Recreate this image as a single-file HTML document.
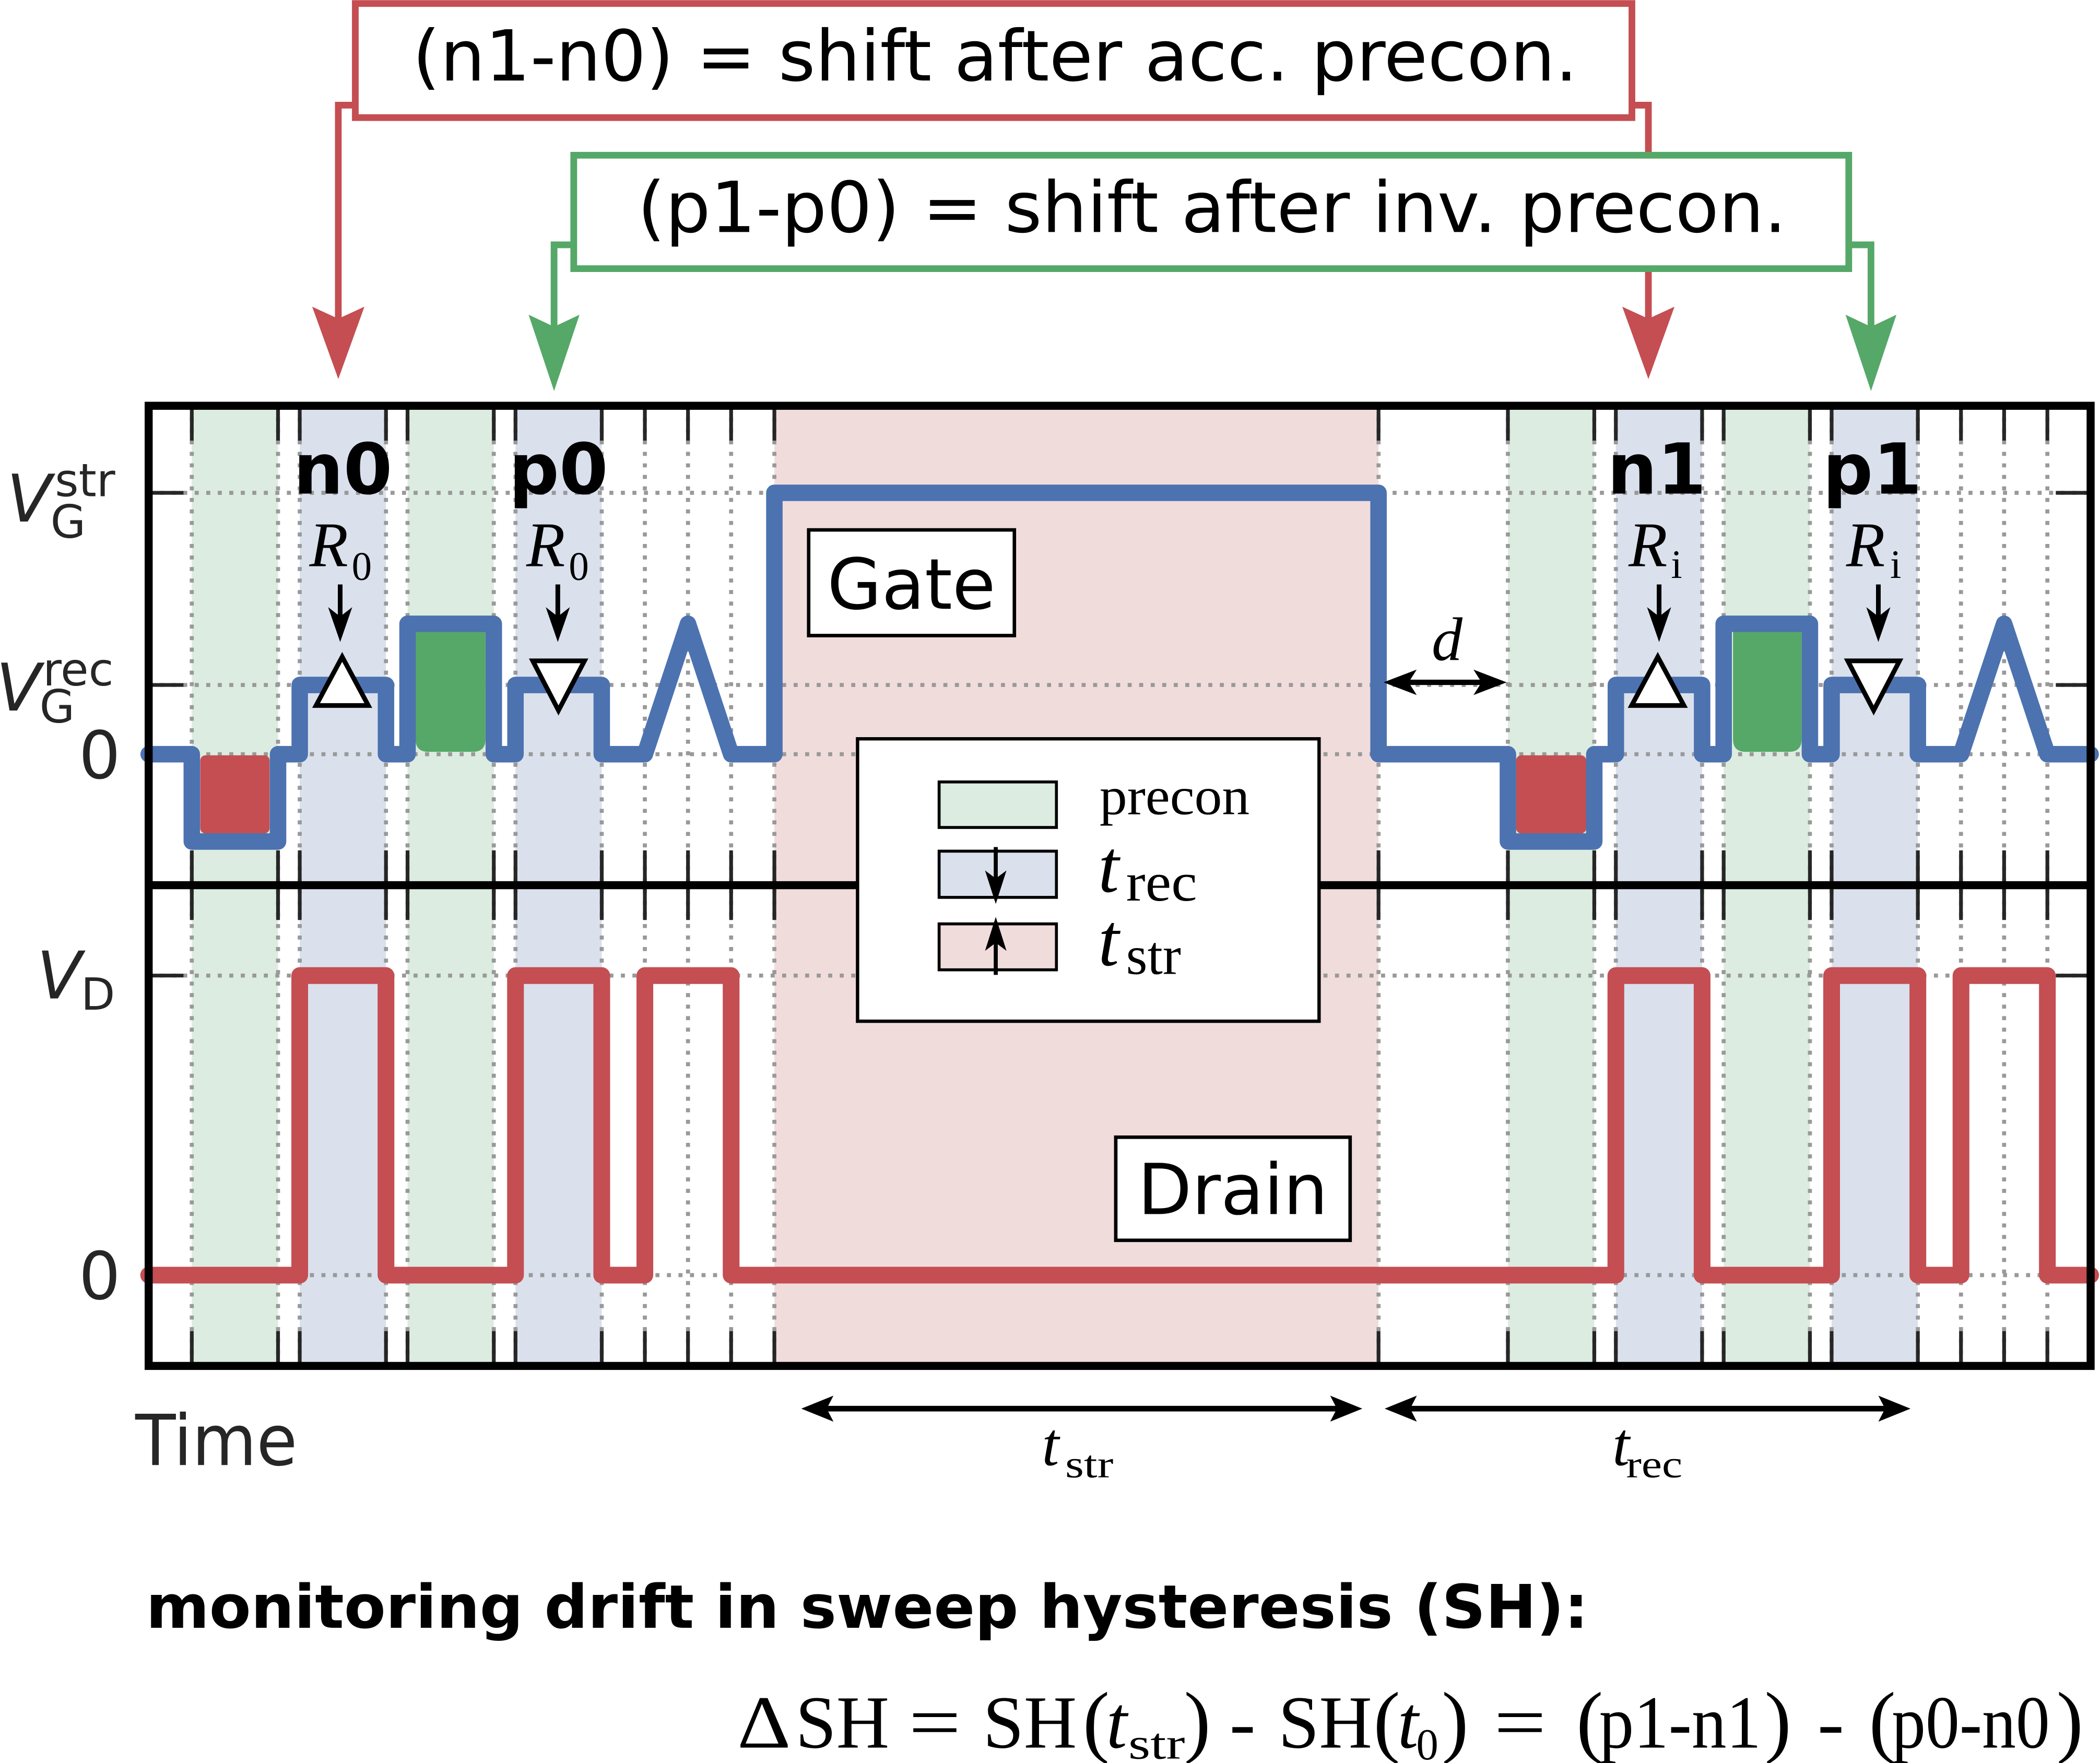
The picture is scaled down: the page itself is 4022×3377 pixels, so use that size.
<!DOCTYPE html>
<html>
<head>
<meta charset="utf-8">
<style>
html,body{margin:0;padding:0;background:#fff;}
svg{display:block;}
.sans{font-family:"DejaVu Sans","Liberation Sans",sans-serif;}
.serif{font-family:"Liberation Serif","DejaVu Serif",serif;}
</style>
</head>
<body>
<svg xmlns="http://www.w3.org/2000/svg" width="4022" height="3377" viewBox="0 0 1568 1316.5">
<rect x="0" y="0" width="1568" height="1316.5" fill="#fff"/>

<!-- background bands -->
<g>
<rect x="143.2" y="303" width="64.4" height="717" fill="#dcece0"/>
<rect x="304.3" y="303" width="64.4" height="717" fill="#dcece0"/>
<rect x="1125.9" y="303" width="64.5" height="717" fill="#dcece0"/>
<rect x="1287" y="303" width="64.4" height="717" fill="#dcece0"/>
<rect x="223.8" y="303" width="64.4" height="717" fill="#dae1ed"/>
<rect x="384.9" y="303" width="64.4" height="717" fill="#dae1ed"/>
<rect x="1206.5" y="303" width="64.4" height="717" fill="#dae1ed"/>
<rect x="1367.6" y="303" width="64.4" height="717" fill="#dae1ed"/>
<rect x="578.2" y="303" width="451.1" height="717" fill="#f1dcdc"/>
</g>

<!-- dotted grid -->
<path fill="none" stroke="#999" stroke-width="3" stroke-dasharray="3 5.6"
d="M143.2 303V1020M207.6 303V1020M223.8 303V1020M288.2 303V1020M304.3 303V1020M368.7 303V1020M384.9 303V1020M449.3 303V1020M481.5 303V1020M513.7 303V1020M545.9 303V1020M578.2 303V1020M1029.3 303V1020M1125.9 303V1020M1190.4 303V1020M1206.5 303V1020M1270.9 303V1020M1287 303V1020M1351.4 303V1020M1367.6 303V1020M1432 303V1020M1464.2 303V1020M1496.4 303V1020M1528.7 303V1020
M111 368H1561M111 511.5H1561M111 563.2H1561M111 728.5H1561M111 952.2H1561"/>

<!-- ticks -->
<path fill="none" stroke="#262626" stroke-width="2.8"
d="M143.2 303V329M143.2 635V687M143.2 994V1020
M207.6 303V329M207.6 635V687M207.6 994V1020
M223.8 303V329M223.8 635V687M223.8 994V1020
M288.2 303V329M288.2 635V687M288.2 994V1020
M304.3 303V329M304.3 635V687M304.3 994V1020
M368.7 303V329M368.7 635V687M368.7 994V1020
M384.9 303V329M384.9 635V687M384.9 994V1020
M449.3 303V329M449.3 635V687M449.3 994V1020
M481.5 303V329M481.5 635V687M481.5 994V1020
M513.7 303V329M513.7 635V687M513.7 994V1020
M545.9 303V329M545.9 635V687M545.9 994V1020
M578.2 303V329M578.2 635V687M578.2 994V1020
M1029.3 303V329M1029.3 635V687M1029.3 994V1020
M1125.9 303V329M1125.9 635V687M1125.9 994V1020
M1190.4 303V329M1190.4 635V687M1190.4 994V1020
M1206.5 303V329M1206.5 635V687M1206.5 994V1020
M1270.9 303V329M1270.9 635V687M1270.9 994V1020
M1287 303V329M1287 635V687M1287 994V1020
M1351.4 303V329M1351.4 635V687M1351.4 994V1020
M1367.6 303V329M1367.6 635V687M1367.6 994V1020
M1432 303V329M1432 635V687M1432 994V1020
M1464.2 303V329M1464.2 635V687M1464.2 994V1020
M1496.4 303V329M1496.4 635V687M1496.4 994V1020
M1528.7 303V329M1528.7 635V687M1528.7 994V1020
M111 368H137M111 511.5H137M111 728.5H137
M1561 368H1535M1561 511.5H1535M1561 728.5H1535"/>

<!-- pulse fills -->
<rect x="149.5" y="564" width="51.8" height="58.4" rx="4" fill="#c44e52"/>
<rect x="1132" y="564" width="52.4" height="58.4" rx="4" fill="#c44e52"/>
<path d="M310.3 470H362.5V552Q362.5 561.4 353 561.4H319.8Q310.3 561.4 310.3 552Z" fill="#55a868"/>
<path d="M1294 470H1345.2V552Q1345.2 561.4 1335.7 561.4H1303.5Q1294 561.4 1294 552Z" fill="#55a868"/>

<!-- waveforms -->
<path fill="none" stroke="#4c72b0" stroke-width="12.3" stroke-linejoin="round" stroke-linecap="round"
d="M111 563.2H143.2V628.4H207.6V563.2H223.8V511.5H288.2V563.2H304.3V465.8H368.7V563.2H384.9V511.5H449.3V563.2H481.5L513.7 465.8L545.9 563.2H578.2V368H1029.3V563.2H1125.9V628.4H1190.4V563.2H1206.5V511.5H1270.9V563.2H1287V465.8H1351.4V563.2H1367.6V511.5H1432V563.2H1464.2L1496.4 465.8L1528.7 563.2H1561"/>
<path fill="none" stroke="#c44e52" stroke-width="12.5" stroke-linejoin="round" stroke-linecap="round"
d="M111 952.2H223.8V728.5H288.2V952.2H384.9V728.5H449.3V952.2H481.5V728.5H545.9V952.2H1206.5V728.5H1270.9V952.2H1367.6V728.5H1432V952.2H1464.2V728.5H1528.7V952.2H1561"/>

<!-- markers / labels in gate panel -->
<g fill="#fff" stroke="#000" stroke-width="3.5" stroke-linejoin="miter">
<polygon points="255.5,490.5 236,526.8 275,526.8"/>
<polygon points="397.8,493.5 436.4,493.5 417,530.5"/>
<polygon points="1237.8,490.5 1218.3,526.8 1257.3,526.8"/>
<polygon points="1379.7,493.5 1418.3,493.5 1399,530.5"/>
</g>
<g stroke="#000" stroke-width="3.5" fill="none">
<path d="M254 436.4V466M416.5 436.4V466M1238.8 436.4V466M1402.5 436.4V466"/>
</g>
<g fill="#000">
<polygon points="254,479.4 245,453.4 254,460.4 263,453.4"/>
<polygon points="416.5,479.4 407.5,453.4 416.5,460.4 425.5,453.4"/>
<polygon points="1238.8,479.4 1229.8,453.4 1238.8,460.4 1247.8,453.4"/>
<polygon points="1402.5,479.4 1393.5,453.4 1402.5,460.4 1411.5,453.4"/>
</g>

<g class="sans" font-weight="bold" font-size="52.5" fill="#000" text-anchor="middle">
<text x="256" y="368.6">n0</text>
<text x="417" y="368.6">p0</text>
<text x="1237" y="368.6">n1</text>
<text x="1398" y="368.6">p1</text>
</g>

<g class="serif" fill="#000">
<text x="231" y="422.8" font-size="47.5" font-style="italic">R</text>
<text x="262.6" y="432.9" font-size="30">0</text>
<text x="393" y="422.8" font-size="47.5" font-style="italic">R</text>
<text x="424.7" y="432.9" font-size="30">0</text>
<text x="1216" y="422.8" font-size="47.5" font-style="italic">R</text>
<text x="1247.7" y="431.5" font-size="30">i</text>
<text x="1378.5" y="422.8" font-size="47.5" font-style="italic">R</text>
<text x="1411.3" y="431.5" font-size="30">i</text>
<text x="1069" y="493" font-size="46" font-style="italic">d</text>
</g>

<!-- d arrow -->
<path d="M1045 509.5H1113" stroke="#000" stroke-width="4" fill="none"/>
<polygon points="1033,509.5 1057.8,500 1051.8,509.5 1057.8,519" fill="#000"/>
<polygon points="1125,509.5 1100.2,500 1106.2,509.5 1100.2,519" fill="#000"/>

<!-- frame -->
<rect x="111" y="303" width="1450" height="717" fill="none" stroke="#000" stroke-width="6"/>
<path d="M111 661H1561" stroke="#000" stroke-width="6"/>

<!-- Gate / Drain boxes -->
<rect x="603.8" y="395.7" width="153.6" height="78.9" fill="#fff" stroke="#000" stroke-width="2.6"/>
<text class="sans" x="680.5" y="454.6" font-size="52.5" text-anchor="middle" fill="#000">Gate</text>
<rect x="833.1" y="849.2" width="175" height="77" fill="#fff" stroke="#000" stroke-width="2.6"/>
<text class="sans" x="920.5" y="906.6" font-size="52.5" text-anchor="middle" fill="#000">Drain</text>

<!-- legend -->
<rect x="640.3" y="551.7" width="344.6" height="210.9" fill="#fff" stroke="#000" stroke-width="2.5"/>
<rect x="701.2" y="583.9" width="87.6" height="34" fill="#dcece0" stroke="#000" stroke-width="2.2"/>
<rect x="701.2" y="635.6" width="87.6" height="34.5" fill="#dae1ed" stroke="#000" stroke-width="2.2"/>
<rect x="701.2" y="689.9" width="87.6" height="34.3" fill="#f1dcdc" stroke="#000" stroke-width="2.2"/>
<path d="M743.5 632.5V662M743.5 700V728" stroke="#000" stroke-width="3" fill="none"/>
<polygon points="743.5,675 735.5,650 743.5,656 751.5,650" fill="#000"/>
<polygon points="743.5,684.7 735.5,710 743.5,704 751.5,710" fill="#000"/>
<g class="serif" fill="#000">
<text x="821" y="608" font-size="40" textLength="112" lengthAdjust="spacingAndGlyphs">precon</text>
<text x="820" y="665.9" font-size="56" font-style="italic">t</text>
<text x="840.8" y="672.5" font-size="41" textLength="53" lengthAdjust="spacingAndGlyphs">rec</text>
<text x="820" y="720.8" font-size="56" font-style="italic">t</text>
<text x="840.8" y="727.3" font-size="41" textLength="41" lengthAdjust="spacingAndGlyphs">str</text>
</g>

<!-- top annotations: red -->
<path d="M265.3 78.5H252.6V245M1218.5 78.5H1230.8V245" fill="none" stroke="#c44e52" stroke-width="5"/>
<polygon points="252.6,283 233.1,229 252.6,238 272.1,229" fill="#c44e52"/>
<polygon points="1230.8,283 1211.3,229 1230.8,238 1250.3,229" fill="#c44e52"/>
<rect x="265.3" y="2.6" width="953.2" height="85.2" fill="#fff" stroke="#c44e52" stroke-width="5"/>
<text class="sans" x="743" y="60.1" font-size="52.5" text-anchor="middle" fill="#000" textLength="870" lengthAdjust="spacingAndGlyphs">(n1-n0) = shift after acc. precon.</text>

<!-- top annotations: green -->
<path d="M428.4 182.8H413.7V252M1380.4 182.8H1397V252" fill="none" stroke="#55a868" stroke-width="5"/>
<polygon points="413.7,292 394.7,235 413.7,244 432.7,235" fill="#55a868"/>
<polygon points="1397,292 1378,235 1397,244 1416,235" fill="#55a868"/>
<rect x="428.4" y="115.9" width="952" height="84.7" fill="#fff" stroke="#55a868" stroke-width="5"/>
<text class="sans" x="905" y="173.2" font-size="52.5" text-anchor="middle" fill="#000" textLength="858" lengthAdjust="spacingAndGlyphs">(p1-p0) = shift after inv. precon.</text>

<!-- y labels -->
<g class="sans" fill="#262626">
<text x="5" y="389.5" font-size="49" font-style="italic">V</text>
<text x="41" y="370.5" font-size="34">str</text>
<text x="37.7" y="401.5" font-size="34">G</text>
<text x="-3" y="530.5" font-size="49" font-style="italic">V</text>
<text x="32" y="511.9" font-size="34">rec</text>
<text x="29.5" y="539.5" font-size="34">G</text>
<text x="90" y="581" font-size="49" text-anchor="end">0</text>
<text x="27.5" y="745.6" font-size="49" font-style="italic">V</text>
<text x="60.5" y="754" font-size="33">D</text>
<text x="90" y="970" font-size="49" text-anchor="end">0</text>
<text x="101" y="1094" font-size="52.5" textLength="121" lengthAdjust="spacingAndGlyphs">Time</text>
</g>

<!-- bottom time arrows -->
<path d="M610 1051.9H1005M1046 1051.9H1414" stroke="#000" stroke-width="4.2" fill="none"/>
<polygon points="598.3,1051.9 622.3,1042.2 617.3,1051.9 622.3,1061.6" fill="#000"/>
<polygon points="1017.2,1051.9 993.2,1042.2 998.2,1051.9 993.2,1061.6" fill="#000"/>
<polygon points="1033.9,1051.9 1057.9,1042.2 1052.9,1051.9 1057.9,1061.6" fill="#000"/>
<polygon points="1426.5,1051.9 1402.5,1042.2 1407.5,1051.9 1402.5,1061.6" fill="#000"/>
<g class="serif" fill="#000">
<text x="778" y="1094.2" font-size="46" font-style="italic">t</text>
<text x="795.3" y="1103.3" font-size="29" textLength="36" lengthAdjust="spacingAndGlyphs">str</text>
<text x="1204" y="1094.2" font-size="46" font-style="italic">t</text>
<text x="1214.2" y="1103.3" font-size="29" textLength="42" lengthAdjust="spacingAndGlyphs">rec</text>
</g>

<!-- bottom text -->
<text class="sans" x="109" y="1215.5" font-size="45" font-weight="bold" fill="#000" textLength="1077" lengthAdjust="spacingAndGlyphs">monitoring drift in sweep hysteresis (SH):</text>

<g class="serif" fill="#000" font-size="56">
<text x="550.5" y="1305" textLength="40" lengthAdjust="spacingAndGlyphs">Δ</text>
<text x="594" y="1305" textLength="70" lengthAdjust="spacingAndGlyphs">SH</text>
<text x="678.5" y="1305" textLength="39" lengthAdjust="spacingAndGlyphs">=</text>
<text x="734" y="1305" textLength="70" lengthAdjust="spacingAndGlyphs">SH</text>
<text x="808.5" y="1305" font-size="60">(</text>
<text x="826" y="1305" font-style="italic">t</text>
<text x="842.5" y="1313.2" font-size="33" textLength="42.3" lengthAdjust="spacingAndGlyphs">str</text>
<text x="884" y="1305" font-size="60">)</text>
<text x="918" y="1305" textLength="19.5" lengthAdjust="spacingAndGlyphs">-</text>
<text x="954.5" y="1305" textLength="70" lengthAdjust="spacingAndGlyphs">SH</text>
<text x="1025.5" y="1305" font-size="60">(</text>
<text x="1043.5" y="1305" font-style="italic">t</text>
<text x="1057.5" y="1313.8" font-size="33">0</text>
<text x="1076.5" y="1305" font-size="60">)</text>
<text x="1115.5" y="1305" textLength="39" lengthAdjust="spacingAndGlyphs">=</text>
<text x="1177" y="1305" font-size="60">(</text>
<text x="1194" y="1305" textLength="121" lengthAdjust="spacingAndGlyphs">p1-n1</text>
<text x="1317.5" y="1305" font-size="60">)</text>
<text x="1357" y="1305" textLength="20" lengthAdjust="spacingAndGlyphs">-</text>
<text x="1395.5" y="1305" font-size="60">(</text>
<text x="1412.5" y="1305" textLength="118" lengthAdjust="spacingAndGlyphs">p0-n0</text>
<text x="1535.5" y="1305" font-size="60">)</text>
</g>
</svg>
</body>
</html>
